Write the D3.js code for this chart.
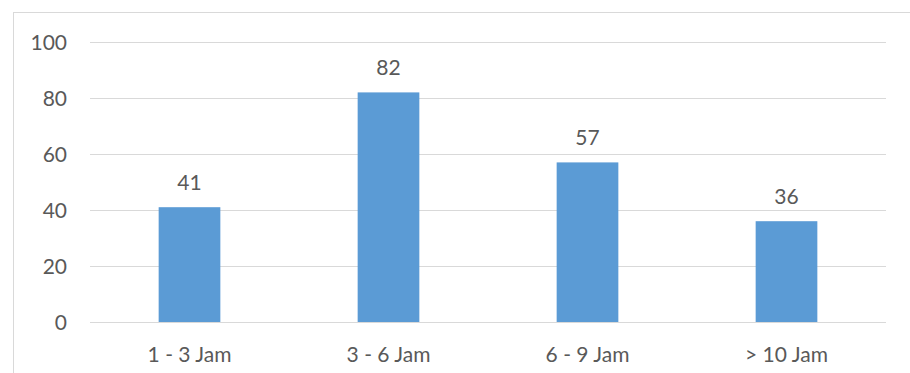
<!DOCTYPE html>
<html>
<head>
<meta charset="utf-8">
<script src="https://cdn.jsdelivr.net/npm/d3@7"></script>
<style>
  body { margin: 0; background: #fff; }
  svg text { font-family: Lato, "Open Sans", sans-serif; fill: #595959; }
</style>
</head>
<body>
<svg width="910" height="373"></svg>
<script>
const categories = ["1 - 3 Jam", "3 - 6 Jam", "6 - 9 Jam", "> 10 Jam"];
const values = [41, 82, 57, 36];
const yTicks = [0, 20, 40, 60, 80, 100];

const svg = d3.select("svg");

// chart area border (runs off the right / bottom edge)
svg.append("rect")
  .attr("x", 13.5).attr("y", 12.5)
  .attr("width", 1000).attr("height", 1000)
  .attr("fill", "none")
  .attr("stroke", "#d9d9d9");

const x = d3.scaleBand()
  .domain(categories)
  .range([90, 886])
  .paddingInner(0.69)
  .paddingOuter(0.345);

const y = d3.scaleLinear()
  .domain([0, 100])
  .range([322, 42]);

// gridlines
svg.append("g")
  .selectAll("line")
  .data(yTicks)
  .join("line")
  .attr("x1", 90).attr("x2", 886)
  .attr("y1", d => Math.round(y(d)) + 0.5)
  .attr("y2", d => Math.round(y(d)) + 0.5)
  .attr("stroke", "#d9d9d9")
  .attr("stroke-width", 1);

// y tick labels
svg.append("g")
  .selectAll("text")
  .data(yTicks)
  .join("text")
  .attr("x", 67)
  .attr("y", d => y(d) + 7.5)
  .attr("text-anchor", "end")
  .style("font-size", "21px")
  .text(d => d);

// bars
svg.append("g")
  .selectAll("rect")
  .data(values)
  .join("rect")
  .attr("x", (d, i) => x(categories[i]))
  .attr("y", d => y(d))
  .attr("width", x.bandwidth())
  .attr("height", d => y(0) - y(d))
  .attr("fill", "#5b9bd5");

// value labels
svg.append("g")
  .selectAll("text")
  .data(values)
  .join("text")
  .attr("x", (d, i) => x(categories[i]) + x.bandwidth() / 2)
  .attr("y", d => y(d) - 17)
  .attr("text-anchor", "middle")
  .style("font-size", "21px")
  .text(d => d);

// category labels
svg.append("g")
  .selectAll("text")
  .data(categories)
  .join("text")
  .attr("x", d => x(d) + x.bandwidth() / 2)
  .attr("y", 361.5)
  .attr("text-anchor", "middle")
  .style("font-size", "21px")
  .text(d => d);
</script>
</body>
</html>
